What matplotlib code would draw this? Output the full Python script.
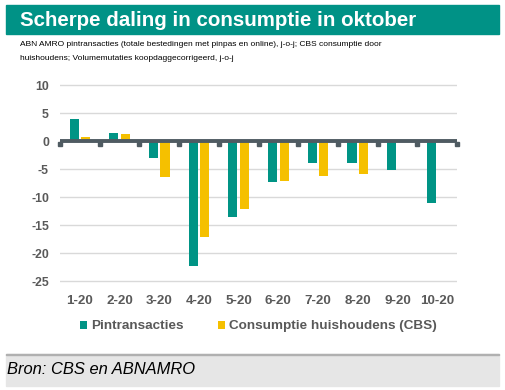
import numpy as np
import matplotlib.pyplot as plt
from matplotlib.patches import Rectangle

plt.rcParams['font.family'] = ['Liberation Sans', 'DejaVu Sans']
plt.rcParams['axes.unicode_minus'] = False

maanden = ["1-20", "2-20", "3-20", "4-20", "5-20", "6-20", "7-20", "8-20", "9-20", "10-20"]
pin = [4.0, 1.45, -3.05, -22.3, -13.5, -7.2, -3.95, -3.95, -5.2, -10.95]
cbs = [0.85, 1.25, -6.4, -17.2, -12.1, -7.05, -6.2, -5.9, np.nan, np.nan]

teal = "#009485"
geel = "#f5c000"
grijs = "#595959"

fig = plt.figure(figsize=(5.05, 3.9), dpi=100)

# title band
fig.patches.append(Rectangle((6 / 505, 1 - 34 / 390), 493 / 505, 29 / 390,
                             transform=fig.transFigure, color="#009286", zorder=0))
fig.text(20 / 505, 1 - 20 / 390, "Scherpe daling in consumptie in oktober", color="white",
         fontsize=14.8, fontweight="bold", va="center")
fig.text(20 / 505, 1 - 44 / 390,
         "ABN AMRO pintransacties (totale bestedingen met pinpas en online), j-o-j; CBS consumptie door",
         fontsize=6.0, va="center")
fig.text(20 / 505, 1 - 58 / 390, "huishoudens; Volumemutaties koopdaggecorrigeerd, j-o-j",
         fontsize=6.0, va="center")

# source band
fig.patches.append(Rectangle((6 / 505, 1 - 386 / 390), 493 / 505, 32 / 390,
                             transform=fig.transFigure, color="#e6e6e6", zorder=0))
fig.patches.append(Rectangle((6 / 505, 1 - 355 / 390), 493 / 505, 1.5 / 390,
                             transform=fig.transFigure, color="#b0b0b0", zorder=0))
fig.text(7 / 505, 1 - 370 / 390, "Bron: CBS en ABNAMRO", fontsize=11.9, style="italic", va="center")

ax = fig.add_axes([60 / 505, 1 - 285 / 390, 397 / 505, 203 / 390])
x = np.arange(len(maanden))
w = 0.23
ax.bar(x - 0.145, pin, w, color=teal, label="Pintransacties", zorder=3)
ax.bar(x + 0.145, cbs, w, color=geel, label="Consumptie huishoudens (CBS)", zorder=3)

ax.set_ylim(-25.7, 10.6)
ax.set_xlim(-0.5, len(maanden) - 0.5)
ax.set_yticks(range(-25, 11, 5))
ax.yaxis.grid(True, color="#d9d9d9", linewidth=1)
ax.set_axisbelow(True)
for s in ax.spines.values():
    s.set_visible(False)
ax.axhline(0, color="#4f5b62", linewidth=2.8, zorder=4)
ax.plot(np.arange(-0.5, len(maanden)), [-0.55] * (len(maanden) + 1), "s", color="#4f5b62",
        markersize=2.6, zorder=4, clip_on=False)
ax.tick_params(length=0, labelcolor=grijs)
ax.set_xticks(x)
ax.set_xticklabels(maanden, fontweight="bold", fontsize=9.6)
for t in ax.get_yticklabels():
    t.set_fontweight("bold")
    t.set_fontsize(8.8)
ax.tick_params(axis="y", pad=8)
ax.tick_params(axis="x", pad=7)

leg = ax.legend(loc="upper center", bbox_to_anchor=(0.5, -0.115), ncol=2, frameon=False,
                fontsize=9.7, handlelength=0.55, handleheight=0.55, columnspacing=2.5,
                handletextpad=0.3)
for t in leg.get_texts():
    t.set_color(grijs)
    t.set_fontweight("bold")

fig.savefig("out.png", dpi=100)
